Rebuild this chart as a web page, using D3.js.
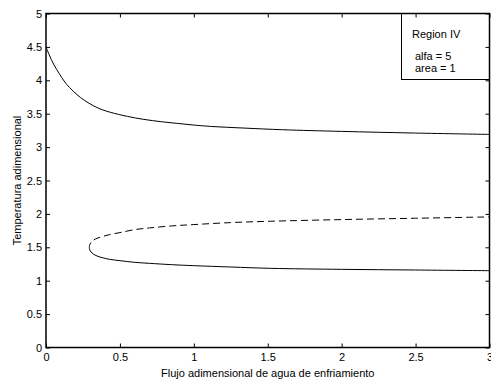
<!DOCTYPE html>
<html>
<head>
<meta charset="utf-8">
<script src="https://cdn.jsdelivr.net/npm/d3@7"></script>
<style>
  html, body { margin: 0; padding: 0; background: #fff; }
  svg { display: block; font-family: "Liberation Sans", Arial, Helvetica, sans-serif; }
</style>
</head>
<body>
<svg id="chart" width="491" height="383"></svg>
<script>
// Upper stable branch (solid)
const highX = [0, 0.02, 0.054, 0.09, 0.122, 0.16, 0.21, 0.26, 0.324, 0.38, 0.437, 0.55, 0.662, 0.78, 0.887, 1.0, 1.113, 1.338, 1.6, 2.0, 2.5, 3.0];
const highT = [4.5, 4.39, 4.23, 4.10, 3.99, 3.89, 3.785, 3.70, 3.615, 3.56, 3.52, 3.46, 3.415, 3.38, 3.355, 3.33, 3.31, 3.285, 3.26, 3.235, 3.21, 3.19];

// Lower stable branch (solid), starting at the turning point
const lowX = [0.293, 0.296, 0.305, 0.32, 0.345, 0.38, 0.43, 0.5, 0.6, 0.7, 0.85, 1.0, 1.25, 1.52, 2.0, 2.5, 3.0];
const lowT = [1.50, 1.46, 1.43, 1.40, 1.37, 1.345, 1.32, 1.30, 1.275, 1.26, 1.24, 1.225, 1.205, 1.185, 1.17, 1.16, 1.15];

// Unstable branch (dashed), starting at the turning point
const midX = [0.293, 0.296, 0.305, 0.32, 0.345, 0.38, 0.43, 0.5, 0.6, 0.7, 0.85, 1.0, 1.25, 1.52, 2.0, 2.5, 3.0];
const midT = [1.50, 1.54, 1.575, 1.605, 1.635, 1.66, 1.69, 1.72, 1.765, 1.79, 1.82, 1.84, 1.87, 1.89, 1.915, 1.935, 1.955];

const xTicks = [0, 0.5, 1, 1.5, 2, 2.5, 3];
const yTicks = [0, 0.5, 1, 1.5, 2, 2.5, 3, 3.5, 4, 4.5, 5];
const legendLines = ["Region IV", "alfa = 5", "area = 1"];

const svg = d3.select("#chart");
const plotLeft = 46, plotRight = 489.5, plotTop = 13.5, plotBottom = 347.5;

const x = d3.scaleLinear().domain([0, 3]).range([plotLeft, plotRight]);
const y = d3.scaleLinear().domain([0, 5]).range([plotBottom, plotTop]);

const smoothLine = d3.line().x(d => x(d[0])).y(d => y(d[1])).curve(d3.curveCatmullRom.alpha(0.5));

svg.append("path")
  .attr("d", smoothLine(d3.zip(highX, highT)))
  .attr("fill", "none").attr("stroke", "#000").attr("stroke-width", 1);

svg.append("path")
  .attr("d", smoothLine(d3.zip(lowX, lowT)))
  .attr("fill", "none").attr("stroke", "#000").attr("stroke-width", 1);

svg.append("path")
  .attr("d", smoothLine(d3.zip(midX, midT)))
  .attr("fill", "none").attr("stroke", "#000").attr("stroke-width", 1)
  .attr("stroke-dasharray", "7,4").attr("stroke-dashoffset", -9);

// Legend box
const lg = svg.append("g");
lg.append("rect")
  .attr("x", 401.5).attr("y", plotTop).attr("width", plotRight - 401.5).attr("height", 79.5 - plotTop)
  .attr("fill", "#fff").attr("stroke", "#000").attr("stroke-width", 1);
lg.selectAll("text").data(legendLines).join("text")
  .attr("x", (d, i) => i === 0 ? 412 : 415)
  .attr("y", (d, i) => [37.5, 60, 72][i])
  .attr("font-size", 11)
  .attr("fill", "#000")
  .text(d => d);

// Axes with inward ticks on all four sides
const tickLen = 4;
const axisB = d3.axisBottom(x).tickValues(xTicks).tickSize(-tickLen).tickPadding(6).tickFormat(d3.format("~g"));
const axisT = d3.axisTop(x).tickValues(xTicks).tickSize(-tickLen).tickFormat("");
const axisL = d3.axisLeft(y).tickValues(yTicks).tickSize(-tickLen).tickPadding(4).tickFormat(d3.format("~g"));
const axisR = d3.axisRight(y).tickValues(yTicks).tickSize(-tickLen).tickFormat("");

function style(g) {
  g.select(".domain").remove();
  g.selectAll(".tick line").attr("stroke", "#000").attr("stroke-width", 1);
  g.selectAll(".tick text").attr("font-size", 11).attr("fill", "#000")
    .attr("font-family", "'Liberation Sans', Arial, Helvetica, sans-serif");
}
svg.append("g").attr("transform", `translate(0,${plotBottom})`).call(axisB).call(style);
svg.append("g").attr("transform", `translate(0,${plotTop})`).call(axisT).call(style);
svg.append("g").attr("transform", `translate(${plotLeft},0)`).call(axisL).call(style);
svg.append("g").attr("transform", `translate(${plotRight},0)`).call(axisR).call(style);

// Frame
svg.append("rect")
  .attr("x", plotLeft).attr("y", plotTop).attr("width", plotRight - plotLeft).attr("height", plotBottom - plotTop)
  .attr("fill", "none").attr("stroke", "#000").attr("stroke-width", 1.5);

// Axis titles
svg.append("text")
  .attr("x", (plotLeft + plotRight) / 2).attr("y", 377)
  .attr("text-anchor", "middle").attr("font-size", 11).attr("fill", "#000")
  .text("Flujo adimensional de agua de enfriamiento");
svg.append("text")
  .attr("transform", `translate(21,${(plotTop + plotBottom) / 2}) rotate(-90)`)
  .attr("text-anchor", "middle").attr("font-size", 11).attr("fill", "#000")
  .text("Temperatura adimensional");
</script>
</body>
</html>
